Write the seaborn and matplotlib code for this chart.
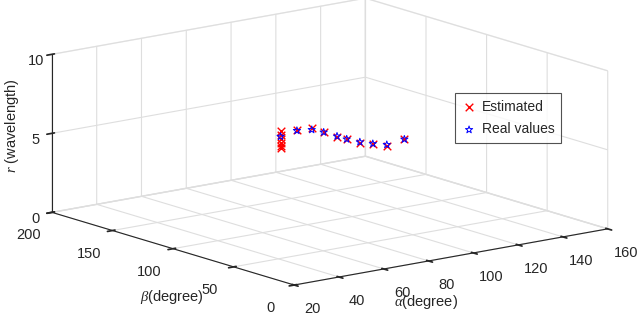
import matplotlib
matplotlib.use("Agg")
import matplotlib.pyplot as plt
import numpy as np
import seaborn as sns

sns.set_theme(style="white")
plt.rcParams["font.family"] = ["Liberation Sans", "DejaVu Sans"]
plt.rcParams["mathtext.fontset"] = "custom"
plt.rcParams["mathtext.rm"] = "Liberation Serif"
plt.rcParams["mathtext.it"] = "Liberation Serif:italic"

# real source positions (alpha, beta in degree, r in wavelength)
alpha_real = [81, 91, 96, 97, 97, 97, 98, 100, 103, 113]
beta_real = [124, 129, 126, 118, 107, 99, 90, 83, 77, 81]
r_real = [5, 5, 5, 5, 5, 5, 5, 5, 5, 5]

# estimates (first source shows a spread in r)
alpha_est = [81, 81, 81, 81, 81, 81, 91, 96, 97, 97, 97, 98, 100, 103, 113]
beta_est = [124, 124, 124, 124, 124, 124, 129, 126, 118, 107, 99, 90, 83, 77, 81]
r_est = [5.35, 5.1, 4.85, 4.6, 4.4, 4.3, 5.05, 5.1, 5.0, 4.95, 5.0, 4.95, 5.0, 4.95, 5.0]

GRID = "#dedede"
AXC = "#262626"

fig = plt.figure(figsize=(6.42, 3.2), dpi=100)
ax = fig.add_axes([0.007, 0.044, 1.0, 1.0], projection="3d", proj_type="ortho")
ax.set_box_aspect((1, 1, 0.41), zoom=1.77)
ax.view_init(elev=13.4, azim=-127.7)

ax.scatter(alpha_est, beta_est, r_est, marker="x", color="red", s=30,
           linewidths=1.0, depthshade=False, label="Estimated")
ax.scatter(alpha_real, beta_real, r_real, marker="*", color="blue", s=30,
           linewidths=0.7, facecolors="none", depthshade=False, label="Real values")

ax.set_xlim(20, 160, view_margin=0)
ax.set_ylim(0, 200, view_margin=0)
ax.set_zlim(0, 10, view_margin=0)
ax.set_xticks(np.arange(20, 161, 20))
ax.set_yticks(np.arange(0, 201, 50))
ax.set_zticks([0, 5, 10])

for axis in (ax.xaxis, ax.yaxis, ax.zaxis):
    axis.pane.fill = False
    axis.pane.set_edgecolor(GRID)
    axis.line.set_color(AXC)
    axis.line.set_linewidth(0.8)
    axis._axinfo["grid"]["color"] = GRID
    axis._axinfo["grid"]["linewidth"] = 0.8
    axis._axinfo["tick"]["color"] = AXC
ax.grid(True)
ax.tick_params(labelsize=10.5, colors=AXC, pad=1)
ax.tick_params(axis="z", pad=-4.5)

fig.text(0.268, 0.072, r"$\beta$(degree)", fontsize=10.5, color=AXC, ha="center", va="center")
fig.text(0.664, 0.056, r"$\alpha$(degree)", fontsize=10.5, color=AXC, ha="center", va="center")
fig.text(0.019, 0.606, r"$r$ (wavelength)", fontsize=10.5, color=AXC, rotation=90,
         ha="center", va="center")

leg = ax.legend(loc="upper left", bbox_to_anchor=(0.709, 0.709),
                bbox_transform=fig.transFigure, fontsize=10, borderaxespad=0,
                frameon=True, fancybox=False, edgecolor=AXC, handletextpad=0.4,
                borderpad=0.5, labelspacing=0.6, handlelength=1.0)
leg.get_frame().set_linewidth(0.8)

fig.savefig("out.png", dpi=100)
